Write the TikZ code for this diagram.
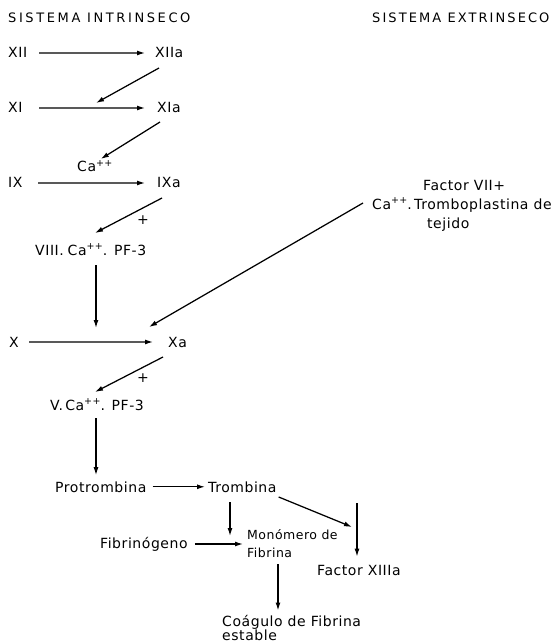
\documentclass[tikz,border=0pt]{standalone}
\usepackage{fontspec}
\setmainfont{DejaVu Sans}
\newfontfamily\bodyfont{DejaVu Sans}[LetterSpace=4]
\newfontfamily\headfontL{DejaVu Sans}[LetterSpace=20]
\newfontfamily\headfontR{DejaVu Sans}[LetterSpace=16]
\newcommand\plusplus{\raisebox{0.42em}{\fontsize{9.5}{9.5}\selectfont ++}}
\usetikzlibrary{arrows.meta}
\begin{document}
\begin{tikzpicture}[x=1pt,y=-1pt,
  lbl/.style={inner sep=0pt, anchor=base west, font=\bodyfont\fontsize{14}{16}\selectfont},
  small/.style={inner sep=0pt, anchor=west, align=left, font=\bodyfont\fontsize{12.5}{18}\selectfont},
  arr/.style={-{Latex[length=8pt,width=5pt]}, line width=1.25pt}]
\useasboundingbox (0,0) rectangle (557,644);
% headings
\node[lbl,font=\headfontL\fontsize{13}{15}\selectfont] (hint) at (8,22.5) {SISTEMA INTRINSECO};
\node[lbl,font=\headfontR\fontsize{13}{15}\selectfont] (hext) at (372,23) {SISTEMA EXTRINSECO};
% intrinsic chain
\node[lbl] (xii) at (8,58) {XII};
\node[lbl] (xiia) at (155,58) {XIIa};
\node[lbl] (xi) at (8,113) {XI};
\node[lbl] (xia) at (157,113) {XIa};
\node[lbl] (ca) at (77,172) {Ca\plusplus};
\node[lbl] (ix) at (8,188) {IX};
\node[lbl] (ixa) at (157,188) {IXa};
\node[lbl,anchor=center] (p1) at (143,220) {+};
\node[lbl] (viii) at (35,255) {VIII.\;Ca\plusplus. PF-3};
\node[lbl] (x) at (9,347) {X};
\node[lbl] (xa) at (168,347) {Xa};
\node[lbl,anchor=center] (p2) at (143,378) {+};
\node[lbl] (v) at (50,410) {V.\,Ca\plusplus. PF-3};
\node[lbl] (pro) at (55,492) {Protrombina};
\node[lbl] (trom) at (208,492) {Trombina};
\node[lbl,anchor=west] (fib) at (100,544) {Fibrinógeno};
\node[small] (mono) at (247,544) {Monómero de\\Fibrina};
\node[lbl] (f13) at (317,575) {Factor XIIIa};
\node[lbl,anchor=north west,align=left,font=\bodyfont\fontsize{14}{14}\selectfont] (coag) at (222,615.5) {Coágulo de Fibrina\\estable};
% extrinsic
\node[lbl] (fvii) at (423,190) {Factor VII+};
\node[lbl] (ctrom) at (372,209) {Ca\plusplus.\,Tromboplastina de};
\node[lbl] (tej) at (427,228) {tejido};
% free ends
\coordinate (m1) at (96,103);
\coordinate (m3) at (95,233);
\coordinate (m4) at (96,328);
\coordinate (m5) at (149,327);
\coordinate (m6) at (95,392);
\coordinate (m7) at (230,536);
\coordinate (m8) at (352,527);
\coordinate (m9) at (357,503);
% connectors
\draw[arr] (xii.east -| 39,0) -- (xiia.west -| 145,0);
\draw[arr] (xi.east -| 39,0) -- (xia.west -| 145,0);
\draw[arr] (ix.east -| 38,0) -- (ixa.west -| 145,0);
\draw[arr] (x.east -| 29,0) -- (xa.west -| 153,0);
\draw[arr] ([xshift=4pt,yshift=-10pt]xiia.base west) -- (m1);
\draw[arr] ([xshift=3pt,yshift=-9pt]xia.base west) -- ([xshift=6pt,yshift=1pt]ca.north);
\draw[arr] ([xshift=5pt,yshift=-10pt]ixa.base west) -- (m3);
\draw[arr] ([yshift=-10pt]viii.base -| m4) -- (m4);
\draw[arr] ([shift={(-9pt,6pt)}]ctrom.base west) -- (m5);
\draw[arr] ([xshift=-5pt,yshift=-10pt]xa.base west) -- (m6);
\draw[arr] ([yshift=-8pt]v.base -| 96,0) -- ([yshift=6pt]pro.north -| 96,0);
\draw[arr] ([xshift=6pt]pro.east) -- ([xshift=-3pt]trom.west);
\draw[arr] ([yshift=-10pt]trom.base -| m7) -- (m7);
\draw[arr] ([shift={(2pt,-5pt)}]trom.base east) -- (m8);
\draw[arr] (m9) -- ([yshift=8pt]f13.north -| m9);
\draw[arr] ([xshift=7pt]fib.east) -- ([xshift=-4pt]mono.west);
\draw[arr] ([yshift=-6pt]mono.south -| 278,0) -- ([yshift=5pt]coag.north -| 278,0);
\end{tikzpicture}
\end{document}
